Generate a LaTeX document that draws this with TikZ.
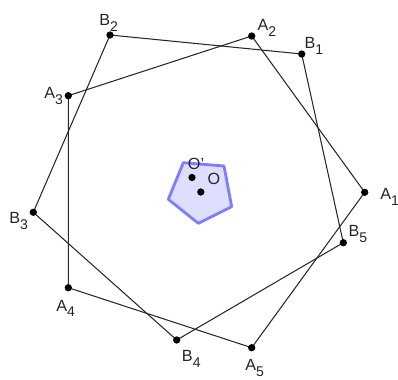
\documentclass[tikz,border=0pt]{standalone}
\usepackage{fontspec}
\setmainfont{Liberation Sans}
\usepackage{tikz}
\definecolor{edgegray}{RGB}{40,40,40}
\definecolor{pentblue}{RGB}{125,125,255}
\definecolor{pentfill}{RGB}{222,222,255}
\newcommand{\ptname}[2]{#1\raisebox{-4.2pt}{\fontsize{10}{10}\selectfont #2}}
\tikzset{
  edge/.style={edgegray,line width=0.75pt,line join=round},
  small/.style={draw=pentblue,fill=pentfill,line width=2pt,line join=round},
  dot/.style={circle,fill=black,inner sep=0pt,minimum size=5.2pt},
  ptlab/.style={anchor=base west,inner sep=0pt,font=\fontsize{11.5}{12}\selectfont,text=black!85},
}

\begin{document}
\begin{tikzpicture}[x=0.025cm,y=-0.025cm]
  \path[use as bounding box] (0,0) rectangle (398,379);

  % vertices
  \foreach \n/\xx/\yy in {
    A1/364.7/192.3, A2/251.7/36.0, A3/68.3/95.7, A4/68.3/287.7, A5/251.7/347.7,
    B1/301.7/54.0, B2/110.0/35.0, B3/33.3/212.3, B4/176.7/340.0, B5/343.3/242.7,
    O/200.8/192.0, Op/192.0/177.5
  }{
    \coordinate (\n) at (\xx,\yy);
  }

  % small pentagon
  \draw[small] (183.3,162.7) -- (224,166) -- (231.7,206.7) -- (198.3,223.3) -- (168.3,199.3) -- cycle;

  % the two big pentagons
  \draw[edge] (A1) -- (A2) -- (A3) -- (A4) -- (A5) -- cycle;
  \draw[edge] (B1) -- (B2) -- (B3) -- (B4) -- (B5) -- cycle;

  \foreach \n in {A1,A2,A3,A4,A5,B1,B2,B3,B4,B5,O,Op}
    \node[dot] (d\n) at (\n) {};

  % labels
  \foreach \n/\l/\s/\xx/\yy in {
    A1/A/1/380.0/199.3, A2/A/2/257.3/30.7, A3/A/3/44.0/99.0, A4/A/4/56.0/311.0,
    A5/A/5/245.0/370.5, B1/B/1/304.3/48.3, B2/B/2/99.0/25.7, B3/B/3/9.0/223.3,
    B4/B/4/181.7/361.7, B5/B/5/348.3/236.7
  }{
    \node[ptlab] (l\n) at (\xx,\yy) {\ptname{\l}{\s}};
  }
  \node[ptlab] (lOp) at (187.7,169.3) {O'};
  \node[ptlab] (lO) at (207.3,184.3) {O};
\end{tikzpicture}
\end{document}
